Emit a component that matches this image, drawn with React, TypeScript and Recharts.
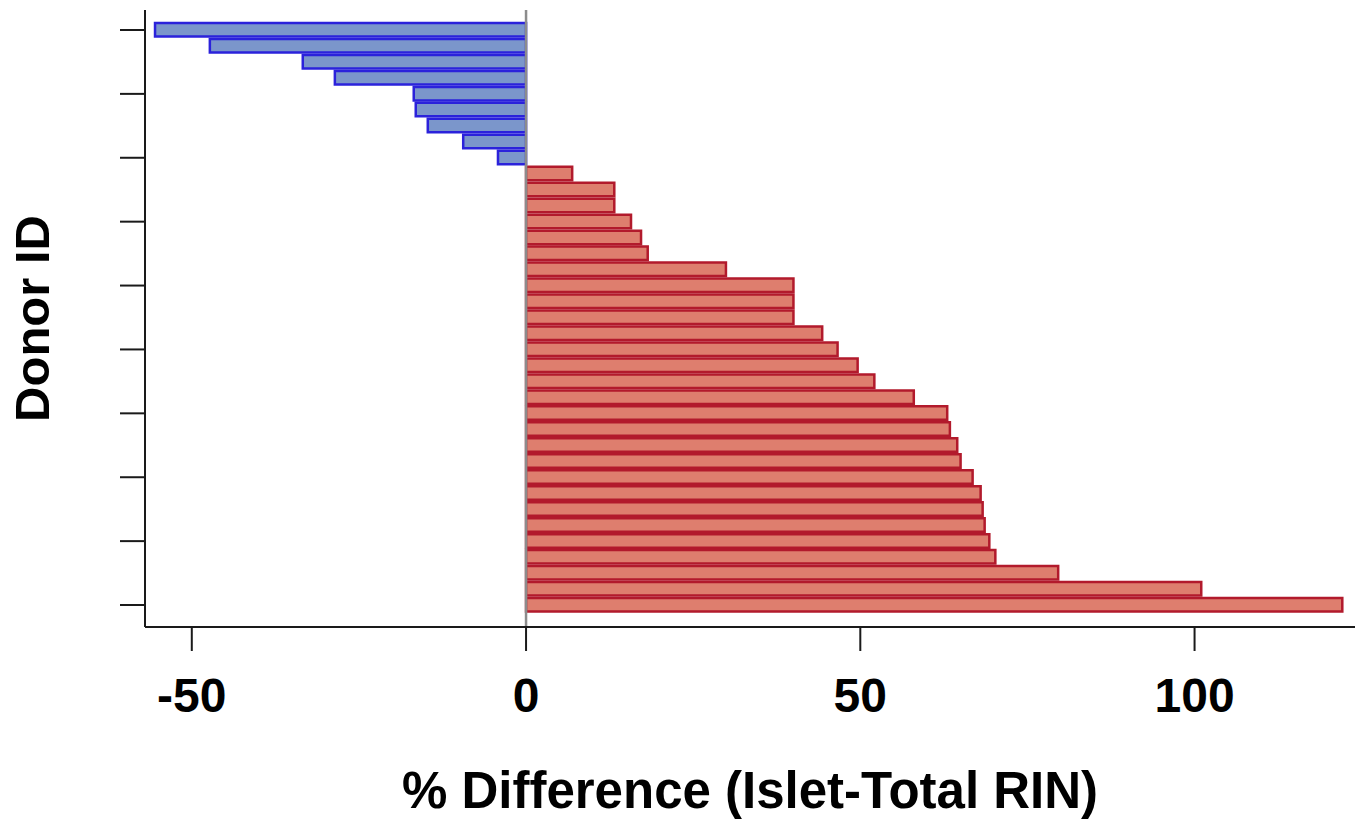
import React from 'react';
import { BarChart, Bar, XAxis, YAxis, Cell, ReferenceLine, Label } from 'recharts';

// donors sorted from most negative to most positive difference
const donorIds = [
  'D01', 'D02', 'D03', 'D04', 'D05', 'D06', 'D07', 'D08', 'D09', 'D10',
  'D11', 'D12', 'D13', 'D14', 'D15', 'D16', 'D17', 'D18', 'D19', 'D20',
  'D21', 'D22', 'D23', 'D24', 'D25', 'D26', 'D27', 'D28', 'D29', 'D30',
  'D31', 'D32', 'D33', 'D34', 'D35', 'D36', 'D37',
];

const pctDifference = [
  -55.5, -47.3, -33.4, -28.6, -16.8, -16.5, -14.7, -9.4, -4.2,
  6.9, 13.2, 13.2, 15.7, 17.2, 18.2, 29.9, 40.0, 40.0, 40.0,
  44.3, 46.6, 49.6, 52.1, 58.0, 63.0, 63.4, 64.5, 65.0, 66.8,
  68.0, 68.3, 68.6, 69.3, 70.2, 79.6, 101.0, 122.1,
];

const xTicks = [-50, 0, 50, 100];
const xDomain = [-57, 124];

const data = donorIds.map((id, i) => ({ id, diff: pctDifference[i] }));

const COLORS = {
  negFill: '#7b96cb',
  negStroke: '#2b22db',
  posFill: '#de7e6e',
  posStroke: '#b21a2c',
  axis: '#1a1a1a',
  zero: '#8c8c8c',
};

const FONT = '"Liberation Sans", Arial, sans-serif';

const W = 1362;
const H = 823;
const Y_AXIS_W = 145;
const X_AXIS_H = 196;
const TOP = 10;

const XTitle = () => (
  <text
    x={Y_AXIS_W + (W - Y_AXIS_W - 7) / 2}
    y={H - 15}
    textAnchor="middle"
    fontFamily={FONT}
    fontWeight="bold"
    fontSize={51}
    fill="#000"
  >
    % Difference (Islet-Total RIN)
  </text>
);

const YTitle = () => {
  const cy = TOP + (H - X_AXIS_H - TOP) / 2;
  return (
    <text
      x={49}
      y={cy}
      transform={`rotate(-90, 49, ${cy})`}
      textAnchor="middle"
      fontFamily={FONT}
      fontWeight="bold"
      fontSize={49}
      fill="#000"
    >
      Donor ID
    </text>
  );
};

export default function App() {
  return (
    <div style={{ position: 'absolute', left: 0, top: 0, background: '#fff' }}>
      <BarChart
        width={W}
        height={H}
        data={data}
        layout="vertical"
        margin={{ top: TOP, right: 7, bottom: 0, left: 0 }}
        barSize={13.5}
      >
        <XAxis
          type="number"
          dataKey="diff"
          domain={xDomain}
          ticks={xTicks}
          allowDataOverflow
          height={X_AXIS_H}
          tickSize={24}
          tickMargin={27}
          axisLine={{ stroke: COLORS.axis, strokeWidth: 2 }}
          tickLine={{ stroke: COLORS.axis, strokeWidth: 2 }}
          tick={{ fill: '#000', fontSize: 48, fontWeight: 'bold', fontFamily: FONT }}
        >
          <Label content={<XTitle />} />
        </XAxis>
        <YAxis
          type="category"
          dataKey="id"
          width={Y_AXIS_W}
          interval={3}
          padding={{ top: 12, bottom: 14 }}
          tickSize={25}
          tickFormatter={() => ''}
          axisLine={{ stroke: COLORS.axis, strokeWidth: 2 }}
          tickLine={{ stroke: COLORS.axis, strokeWidth: 2 }}
        >
          <Label content={<YTitle />} />
        </YAxis>
        <Bar dataKey="diff" strokeWidth={2.5} isAnimationActive={false}>
          {data.map((d, i) => (
            <Cell
              key={`cell-${i}`}
              fill={d.diff < 0 ? COLORS.negFill : COLORS.posFill}
              stroke={d.diff < 0 ? COLORS.negStroke : COLORS.posStroke}
            />
          ))}
        </Bar>
        <ReferenceLine x={0} stroke={COLORS.zero} strokeWidth={2.5} />
      </BarChart>
    </div>
  );
}
